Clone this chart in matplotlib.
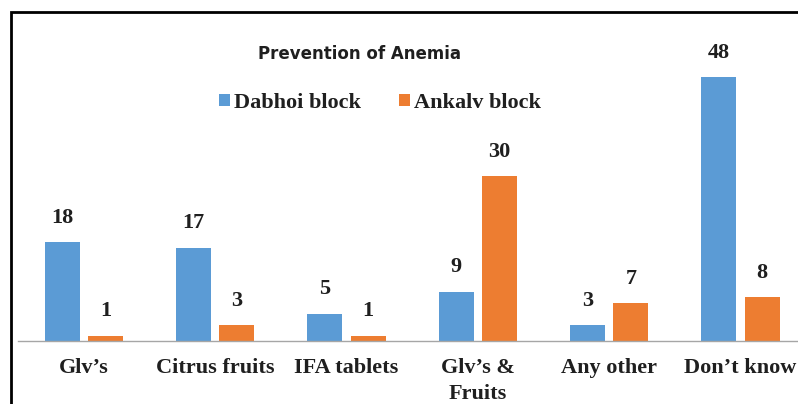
import numpy as np
import matplotlib.pyplot as plt
from matplotlib.patches import Rectangle

categories = ["Glv\u2019s", "Citrus fruits", "IFA tablets", "Glv\u2019s &\nFruits", "Any other", "Don\u2019t know"]
dabhoi = [18, 17, 5, 9, 3, 48]
ankalv = [1, 3, 1, 30, 7, 8]

blue = "#5B9BD5"
orange = "#ED7D31"
ink = "#1F1F1F"
serif = ["Liberation Serif", "DejaVu Serif"]
fs = 16

W, H = 798, 404
fig = plt.figure(figsize=(W / 100, H / 100), dpi=100)

# axes spans a bit past the right edge, like the cropped original
left, right = 18.4, 806.0
base, top = 341.0, 38.5
ax = fig.add_axes([left / W, (H - base) / H, (right - left) / W, (base - top) / H])

x = np.arange(len(categories))
w = 0.267
off = 0.165
b1 = ax.bar(x - off, dabhoi, w, color=blue, label="Dabhoi block")
b2 = ax.bar(x + off, ankalv, w, color=orange, label="Ankalv block")

for bars, vals in ((b1, dabhoi), (b2, ankalv)):
    for r, v in zip(bars, vals):
        ax.annotate(str(v), (r.get_x() + r.get_width() / 2, v), xytext=(0, 14),
                    textcoords="offset pixels", ha="center", va="bottom",
                    family=serif, fontweight="bold", fontsize=fs, color=ink)

ax.set_xlim(-0.5, 5.5)
ax.set_ylim(0, 302.5 / 5.5)
ax.set_yticks([])
ax.set_xticks(x)
ax.set_xticklabels(categories, family=serif, fontweight="bold", fontsize=fs, color=ink,
                   linespacing=1.4)
ax.tick_params(axis="x", length=0, pad=12)
for s in ["top", "right", "left"]:
    ax.spines[s].set_visible(False)
ax.spines["bottom"].set_color("#A6A6A6")
ax.spines["bottom"].set_linewidth(1.0)

fig.text(360 / W, 1 - 54 / H, "Prevention of Anemia", ha="center", va="center",
         fontsize=12, fontweight="bold", color=ink, family="DejaVu Sans")

leg = fig.legend(loc="center", bbox_to_anchor=(380 / W, 1 - 103 / H), ncol=2, frameon=False,
                 prop={"family": serif, "weight": "bold", "size": fs},
                 handlelength=0.5, handleheight=0.5, handletextpad=0.2, columnspacing=1.7)
for t in leg.get_texts():
    t.set_color(ink)

# outer frame, cropped at right and bottom
fig.patches.append(Rectangle((10.5 / W, -0.1), 1.2, 1 - 12 / H + 0.1, transform=fig.transFigure,
                             fill=False, edgecolor="black", linewidth=2, clip_on=False))

fig.savefig("out.png", dpi=100)
